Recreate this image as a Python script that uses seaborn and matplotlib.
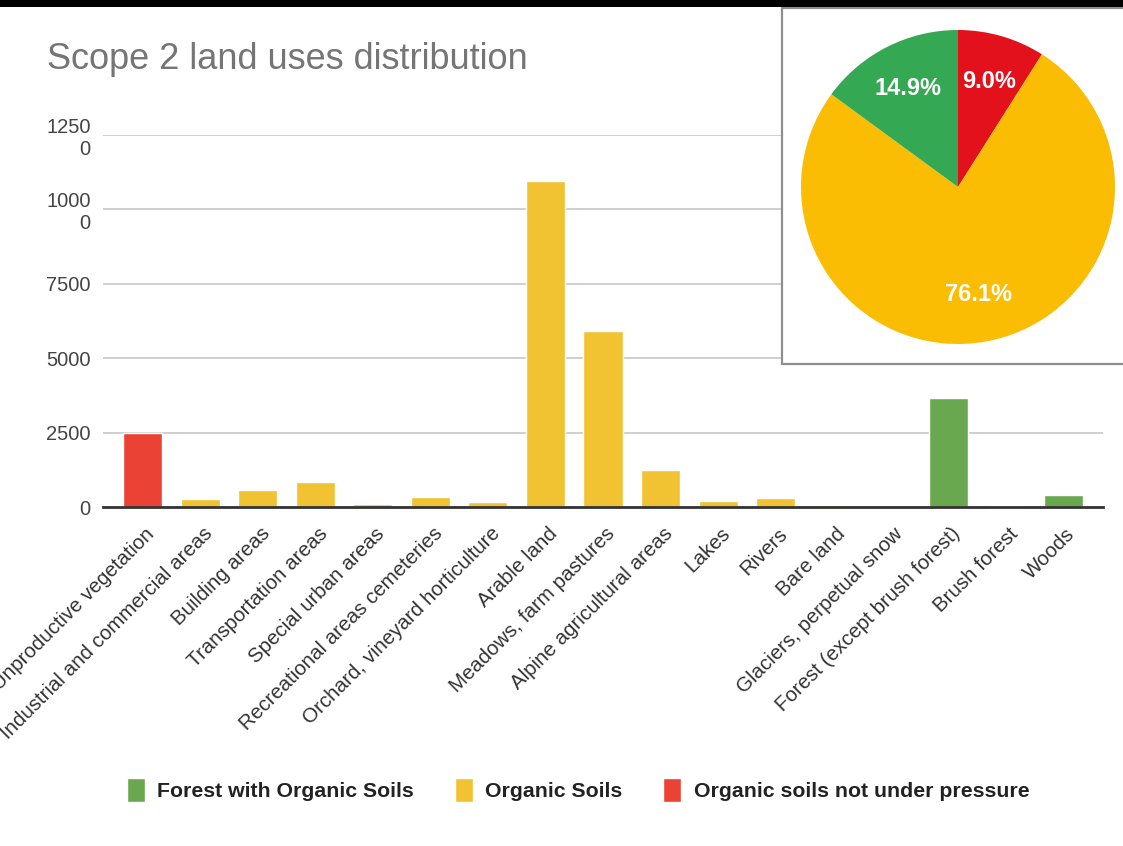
import matplotlib
matplotlib.use("Agg")
import matplotlib.pyplot as plt
import matplotlib.transforms as mtransforms
from matplotlib.patches import Rectangle
import pandas as pd
import seaborn as sns

# ---- data -------------------------------------------------------------
land_uses = [
    "Unproductive vegetation",
    "Industrial and commercial areas",
    "Building areas",
    "Transportation areas",
    "Special urban areas",
    "Recreational areas cemeteries",
    "Orchard, vineyard horticulture",
    "Arable land",
    "Meadows, farm pastures",
    "Alpine agricultural areas",
    "Lakes",
    "Rivers",
    "Bare land",
    "Glaciers, perpetual snow",
    "Forest (except brush forest)",
    "Brush forest",
    "Woods",
]
areas = [2470, 270, 558, 830, 90, 340, 160, 10950, 5920, 1250,
         218, 286, 60, 0, 3650, 40, 420]
soil_classes = (["Organic soils not under pressure"]
                + ["Organic Soils"] * 13
                + ["Forest with Organic Soils"] * 3)

legend_order = ["Forest with Organic Soils", "Organic Soils",
                "Organic soils not under pressure"]
pie_order = ["Organic soils not under pressure", "Organic Soils",
             "Forest with Organic Soils"]

y_ticks = [0, 2500, 5000, 7500, 10000, 12500]
y_tick_labels = ["0", "2500", "5000", "7500", "1000\n0", "1250\n0"]

title = "Scope 2 land uses distribution"

bar_colors = {"Forest with Organic Soils": "#6AA84F",
              "Organic Soils": "#F1C232",
              "Organic soils not under pressure": "#EA4335"}
pie_colors = {"Forest with Organic Soils": "#34A853",
              "Organic Soils": "#FBBC04",
              "Organic soils not under pressure": "#E3111B"}

df = pd.DataFrame({"land_use": land_uses, "area": areas, "soil_class": soil_classes})

# ---- figure -----------------------------------------------------------
sns.set_theme(style="white")
plt.rcParams["font.family"] = ["Liberation Sans", "DejaVu Sans"]

W, H = 1123, 846
fig = plt.figure(figsize=(W / 100, H / 100), dpi=100)
fig.patch.set_facecolor("white")


def fx(px):
    return px / W


def fy(py):
    return 1 - py / H


ax = fig.add_axes([fx(103), fy(507), fx(1103) - fx(103), fy(135) - fy(507)])

sns.barplot(data=df, x="land_use", y="area", hue="soil_class",
            hue_order=legend_order, palette=bar_colors, dodge=False,
            width=0.68, saturation=1, ax=ax)

ax.set_xlim(-0.69, len(land_uses) - 1 + 0.69)
ax.set_ylim(0, 12500)
ax.set_yticks(y_ticks)
ax.set_yticklabels(y_tick_labels, fontsize=14.5, color="#444444",
                   multialignment="right")
ax.set_xlabel("")
ax.set_ylabel("")
ax.yaxis.grid(True, color="#cccccc", linewidth=1.3)
ax.set_axisbelow(True)
for side in ("top", "right", "left"):
    ax.spines[side].set_visible(False)
ax.spines["bottom"].set_color("#333333")
ax.spines["bottom"].set_linewidth(2)
ax.tick_params(axis="both", length=0)
ax.tick_params(axis="y", pad=9)

ax.set_xticks(range(len(land_uses)))
ax.set_xticklabels(land_uses, rotation=45, ha="right", va="center",
                   rotation_mode="anchor", fontsize=14.8, color="#333333")
shift = mtransforms.ScaledTranslation(9 / 100, -19 / 100, fig.dpi_scale_trans)
for lbl in ax.get_xticklabels():
    lbl.set_transform(lbl.get_transform() + shift)

# legend under the chart
handles, labels = ax.get_legend_handles_labels()
if ax.get_legend() is not None:
    ax.get_legend().remove()
fig.legend(handles, labels, loc="center", bbox_to_anchor=(fx(578), fy(790)),
           ncol=3, frameon=False, handlelength=0.85, handleheight=1.35,
           handletextpad=0.6, columnspacing=1.9,
           prop={"weight": "bold", "size": 15.3})
for t in fig.legends[0].get_texts():
    t.set_color("#222222")

# title
fig.text(fx(47), fy(69), title, fontsize=26, color="#757575", va="baseline")

# framed box holding the pie
fig.patches.append(Rectangle((fx(782), fy(364)), fx(1135) - fx(782), fy(8) - fy(364),
                             transform=fig.transFigure, facecolor="white",
                             edgecolor="#8f8f8f", linewidth=1.6, zorder=1))

# share of each soil class
shares = df.groupby("soil_class")["area"].sum().reindex(pie_order)
ax_pie = fig.add_axes([fx(801), fy(344), fx(1115) - fx(801), fy(30) - fy(344)])
ax_pie.set_zorder(2)
ax_pie.patch.set_alpha(0)
wedges, _, autotexts = ax_pie.pie(
    shares.values, colors=[pie_colors[c] for c in pie_order],
    startangle=90, counterclock=False, autopct="%.1f%%", pctdistance=0.7,
    wedgeprops={"linewidth": 0},
    textprops={"color": "white", "fontweight": "bold", "fontsize": 17})
ax_pie.set_xlim(-1, 1)
ax_pie.set_ylim(-1, 1)
ax_pie.set_aspect("equal")
ax_pie.axis("off")

# dark strip along the top edge
fig.patches.append(Rectangle((0, fy(7)), 1, fy(0) - fy(7), transform=fig.transFigure,
                             facecolor="black", edgecolor="none", zorder=5))

fig.savefig("out.png", dpi=100)
